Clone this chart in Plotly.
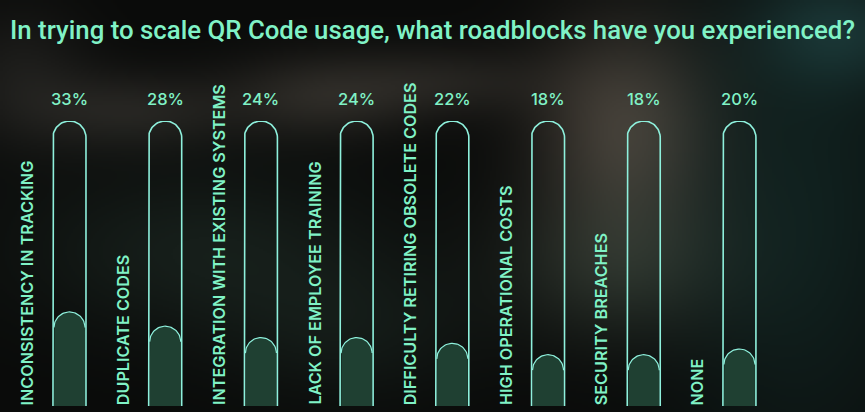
import base64
import struct
import zlib

import numpy as np
import plotly.graph_objects as go

title = "In trying to scale QR Code usage, what roadblocks have you experienced?"
categories = [
    "INCONSISTENCY IN TRACKING",
    "DUPLICATE CODES",
    "INTEGRATION WITH EXISTING SYSTEMS",
    "LACK OF EMPLOYEE TRAINING",
    "DIFFICULTY RETIRING OBSOLETE CODES",
    "HIGH OPERATIONAL COSTS",
    "SECURITY BREACHES",
    "NONE",
]
values = [33, 28, 24, 24, 22, 18, 18, 20]
value_labels = ["33%", "28%", "24%", "24%", "22%", "18%", "18%", "20%"]
track_max = 100

MINT = "#80f2c6"
OUTLINE = "#8ef0dc"
FILL = "#1f4032"

W, H = 865, 412
M_T, M_B = 121, 6
X_RANGE = [-0.726, 8.312]
PLOT_W = W
PLOT_H = H - M_T - M_B
PX_X = PLOT_W / (X_RANGE[1] - X_RANGE[0])   # px per x unit
PX_Y = PLOT_H / track_max                    # px per y unit


# ---------- blurred photographic backdrop (decorative) ----------
def backdrop_png(w, h):
    yy, xx = np.mgrid[0:h, 0:w].astype(float)
    xx *= W / w
    yy *= H / h
    base = np.array([10, 11, 10], float)
    img = np.ones((h, w, 3)) * base
    blobs = [
        # cx, cy, sx, sy, rgb
        (622, 125, 62, 75, (66, 60, 53)),
        (615, 265, 80, 55, (36, 42, 36)),
        (320, 95, 70, 30, (42, 40, 36)),
        (450, 80, 70, 25, (32, 31, 28)),
        (130, 110, 70, 28, (36, 35, 32)),
        (20, 75, 50, 50, (28, 28, 26)),
        (200, 250, 130, 60, (22, 30, 26)),
        (800, 200, 90, 200, (16, 32, 30)),
        (840, 30, 60, 40, (22, 40, 40)),
        (350, 330, 90, 50, (18, 24, 21)),
    ]
    for cx, cy, sx, sy, col in blobs:
        wgt = np.exp(-(((xx - cx) / sx) ** 2 + ((yy - cy) / sy) ** 2) / 2)
        img += wgt[..., None] * (np.array(col, float) - base)
    img = np.clip(img, 0, 255).astype(np.uint8)
    raw = b"".join(b"\x00" + img[r].tobytes() for r in range(h))

    def chunk(tag, data):
        c = struct.pack(">I", len(data)) + tag + data
        return c + struct.pack(">I", zlib.crc32(tag + data) & 0xFFFFFFFF)

    png = b"\x89PNG\r\n\x1a\n"
    png += chunk(b"IHDR", struct.pack(">IIBBBBB", w, h, 8, 2, 0, 0, 0))
    png += chunk(b"IDAT", zlib.compress(raw, 9))
    png += chunk(b"IEND", b"")
    return "data:image/png;base64," + base64.b64encode(png).decode()


def pill(xc, top, r_px, closed=True, arc_only=False):
    """Points of a bar from y=0 to y=top with a semicircular cap (radius in px)."""
    rx = r_px / PX_X
    ry = r_px / PX_Y
    yc = top - ry
    t = np.linspace(np.pi, 0, 41)
    ax = list(xc + rx * np.cos(t))
    ay = list(yc + ry * np.sin(t))
    if arc_only:
        return ax, ay
    px = [xc - rx] + ax + [xc + rx]
    py = [0] + ay + [0]
    if closed:
        px.append(xc - rx)
        py.append(0)
    return px, py


def join(parts):
    X, Y = [], []
    for px, py in parts:
        X += px + [None]
        Y += py + [None]
    return X, Y


xs = list(range(len(categories)))

tx, ty = join([pill(i, track_max, 16.5, closed=False) for i in xs])
fx, fy = join([pill(i, v, 15.5) for i, v in zip(xs, values)])
ax_, ay_ = join([pill(i, v, 15.5, arc_only=True) for i, v in zip(xs, values)])

fig = go.Figure()
fig.add_trace(go.Scatter(x=fx, y=fy, mode="lines", fill="toself", fillcolor=FILL,
                         line=dict(width=0, color=FILL), hoverinfo="skip", showlegend=False))
fig.add_trace(go.Scatter(x=ax_, y=ay_, mode="lines", line=dict(width=1.2, color=OUTLINE),
                         hoverinfo="skip", showlegend=False))
fig.add_trace(go.Scatter(x=tx, y=ty, mode="lines", line=dict(width=1.6, color=OUTLINE),
                         hoverinfo="skip", showlegend=False))

annotations = []
for i, (cat, lab) in enumerate(zip(categories, value_labels)):
    annotations.append(dict(
        x=i, y=track_max, xref="x", yref="y", text=lab, showarrow=False,
        yanchor="bottom", yshift=10,
        font=dict(family="Inter, Noto Sans, sans-serif", size=16.5, color=MINT, weight=500),
    ))
    annotations.append(dict(
        x=i - 0.444, y=0, xref="x", yref="y", text=cat, showarrow=False,
        textangle=-90, yanchor="bottom", xanchor="center", yshift=-1,
        font=dict(family="Inter, Noto Sans, sans-serif", size=16.2, color=MINT, weight=600),
    ))

fig.update_layout(
    width=W, height=H,
    margin=dict(l=0, r=0, t=M_T, b=M_B),
    paper_bgcolor="#0b0c0b", plot_bgcolor="rgba(0,0,0,0)",
    title=dict(text=title, x=0.5, xanchor="center", y=1 - 30 / H, yanchor="middle",
               font=dict(family="Roboto", size=25.8, color=MINT, weight=500)),
    xaxis=dict(range=X_RANGE, visible=False, fixedrange=True),
    yaxis=dict(range=[0, track_max], visible=False, fixedrange=True),
    annotations=annotations,
    images=[dict(source=backdrop_png(433, 206), xref="paper", yref="paper",
                 x=0, y=1 + M_T / PLOT_H, sizex=1, sizey=H / PLOT_H,
                 xanchor="left", yanchor="top", sizing="stretch", layer="below")],
)

fig.write_html(
    "out.html",
    config={"displayModeBar": False, "staticPlot": True},
    post_script="document.body.style.margin='0';document.body.style.background='#0b0c0b';",
)
